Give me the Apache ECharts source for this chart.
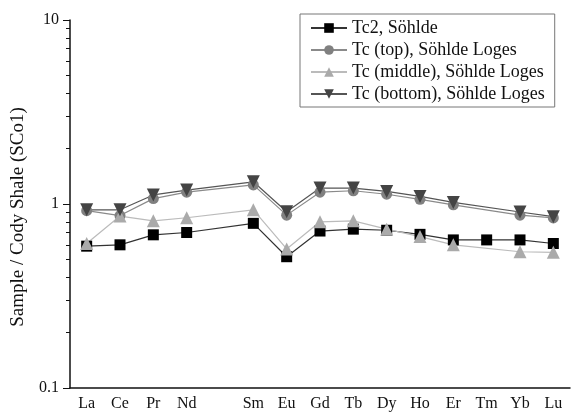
<!DOCTYPE html>
<html>
<head>
<meta charset="utf-8">
<script src="https://cdn.jsdelivr.net/npm/echarts@6/dist/echarts.min.js"></script>
<style>
  html, body { margin: 0; padding: 0; background: #fff; }
  #chart { width: 572px; height: 415px; }
</style>
</head>
<body>
<div id="chart"></div>
<script>
// REE categories, Pm slot left empty
const elements = ['La', 'Ce', 'Pr', 'Nd', 'Pm', 'Sm', 'Eu', 'Gd', 'Tb', 'Dy', 'Ho', 'Er', 'Tm', 'Yb', 'Lu']
const elementLabels = ['La', 'Ce', 'Pr', 'Nd', '', 'Sm', 'Eu', 'Gd', 'Tb', 'Dy', 'Ho', 'Er', 'Tm', 'Yb', 'Lu']

const tc2 = [0.59, 0.60, 0.68, 0.70, null, 0.785, 0.517, 0.713, 0.73, 0.72, 0.684, 0.638, 0.638, 0.638, 0.61]
const tcTop = [0.92, 0.865, 1.07, 1.16, null, 1.27, 0.87, 1.16, 1.18, 1.13, 1.06, 0.99, null, 0.87, 0.84]
const tcMiddle = [0.61, 0.86, 0.81, 0.842, null, 0.93, 0.57, 0.80, 0.81, 0.73, 0.665, 0.60, null, 0.55, 0.546]
const tcBottom = [0.93, 0.93, 1.12, 1.19, null, 1.32, 0.908, 1.22, 1.22, 1.17, 1.10, 1.02, null, 0.905, 0.853]

// y ticks (log)
const yMajorTicks = [0.1, 1, 10]
const yMinorTicks = [0.2, 0.3, 0.4, 0.5, 0.6, 0.7, 0.8, 0.9, 2, 3, 4, 5, 6, 7, 8, 9]

const serif = '"Liberation Serif", "DejaVu Serif", serif'

const chart = echarts.init(document.getElementById('chart'))

function lineSeries(name, data, symbol, color, lineColor, size, rotate) {
  return {
    name: name,
    type: 'line',
    data: data,
    connectNulls: true,
    symbol: symbol,
    symbolSize: size,
    symbolRotate: rotate || 0,
    itemStyle: { color: color },
    lineStyle: { color: lineColor, width: 1.2 },
  }
}

const option = {
  animation: false,
  backgroundColor: '#fff',
  grid: { left: 70, right: 2, top: 20, bottom: 27, containLabel: false },
  legend: {
    orient: 'vertical',
    left: 300,
    top: 14,
    padding: [5, 10, 4, 10],
    borderColor: '#777',
    borderWidth: 1,
    itemWidth: 36,
    itemHeight: 12,
    itemGap: 4,
    textStyle: { fontFamily: serif, fontSize: 18, color: '#111', lineHeight: 18 },
    data: ['Tc2, Söhlde', 'Tc (top), Söhlde Loges', 'Tc (middle), Söhlde Loges', 'Tc (bottom), Söhlde Loges'],
  },
  xAxis: {
    type: 'category',
    data: elementLabels,
    axisLine: { lineStyle: { color: '#111', width: 1.5 } },
    axisTick: { alignWithLabel: true, interval: 0, length: 6, lineStyle: { color: '#111' } },
    axisLabel: { interval: 0, fontFamily: serif, fontSize: 16, color: '#111', margin: 8 },
  },
  yAxis: [
    {
      type: 'log',
      logBase: 10,
      min: 0.1,
      max: 10,
      name: 'Sample / Cody Shale (SCo1)',
      nameLocation: 'middle',
      nameGap: 42,
      nameTextStyle: { fontFamily: serif, fontSize: 19, color: '#111', padding: [0, 26, 0, 0] },
      axisLine: { show: true, lineStyle: { color: '#111', width: 1.5 } },
      axisTick: { show: true, length: 4, customValues: yMinorTicks, lineStyle: { color: '#111' } },
      axisLabel: { show: false },
      splitLine: { show: false },
    },
    {
      type: 'log',
      logBase: 10,
      min: 0.1,
      max: 10,
      position: 'left',
      axisLine: { show: false },
      axisTick: { show: true, length: 7, customValues: yMajorTicks, lineStyle: { color: '#111' } },
      axisLabel: {
        customValues: yMajorTicks,
        fontFamily: serif,
        fontSize: 16,
        color: '#111',
        margin: 11,
        formatter: function (v) { return String(v) },
      },
      splitLine: { show: false },
    },
  ],
  series: [
    lineSeries('Tc2, Söhlde', tc2, 'rect', '#000', '#333', 11),
    lineSeries('Tc (top), Söhlde Loges', tcTop, 'circle', '#808080', '#8a8a8a', 11),
    lineSeries('Tc (middle), Söhlde Loges', tcMiddle, 'triangle', '#aaaaaa', '#bbbbbb', 13),
    lineSeries('Tc (bottom), Söhlde Loges', tcBottom, 'triangle', '#444', '#555', 13, 180),
  ],
}

chart.setOption(option)
</script>
</body>
</html>
